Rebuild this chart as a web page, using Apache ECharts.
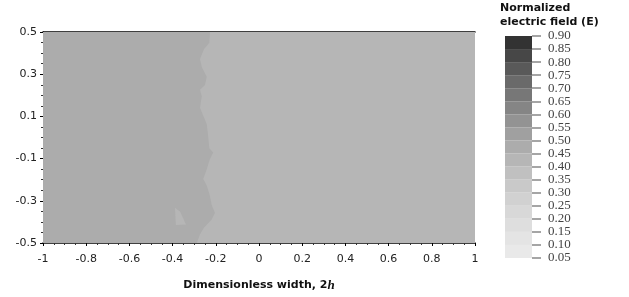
<!DOCTYPE html>
<html>
<head>
<meta charset="utf-8">
<script src="https://cdn.jsdelivr.net/npm/echarts@6/dist/echarts.min.js"></script>
<style>
    html, body { margin: 0; padding: 0; background: #fff; }
    #chart { width: 629px; height: 297px; }
</style>
</head>
<body>
<div id="chart"></div>
<script>
// boundary between the two levels (top to bottom)
const boundaryX = [-0.227, -0.23, -0.255, -0.273, -0.265, -0.242, -0.25, -0.273, -0.265, -0.273, -0.261, -0.242,
    -0.235, -0.23, -0.212, -0.228, -0.242, -0.258, -0.242, -0.228, -0.219, -0.204, -0.219, -0.255, -0.273, -0.288];
const boundaryY = [0.5, 0.449, 0.418, 0.372, 0.334, 0.288, 0.249, 0.226, 0.195, 0.141, 0.11, 0.064,
    0.003, -0.051, -0.071, -0.104, -0.151, -0.197, -0.228, -0.274, -0.32, -0.358, -0.389, -0.428, -0.458, -0.5];
// small lighter patch near the bottom
const patchX = [-0.389, -0.365, -0.338, -0.385];
const patchY = [-0.333, -0.352, -0.412, -0.415];
// field value of each region: whole plot, left part, patch
const regionValues = [0.425, 0.475, 0.425];

// colour bar
const bandEdges = [0.05, 0.10, 0.15, 0.20, 0.25, 0.30, 0.35, 0.40, 0.45, 0.50, 0.55, 0.60, 0.65, 0.70, 0.75, 0.80, 0.85, 0.90];
const bandColors = ['#e9e9e9', '#e4e4e4', '#dedede', '#d8d8d8', '#d1d1d1', '#c9c9c9', '#c0c0c0', '#b6b6b6', '#acacac',
    '#a0a0a0', '#939393', '#858585', '#777777', '#6a6a6a', '#595959', '#474747', '#333333'];

const regions = [
    { x: [-1, 1, 1, -1], y: [0.5, 0.5, -0.5, -0.5] },
    { x: [-1].concat(boundaryX, [-1]), y: [0.5].concat(boundaryY, [-0.5]) },
    { x: patchX, y: patchY },
];

let pieces = [];
let bars = [];
for (let i = 0; i < bandColors.length; i++) {
    pieces.push({ gt: bandEdges[i], lte: bandEdges[i + 1], color: bandColors[i] });
    bars.push([bandEdges[i], bandEdges[i + 1]]);
}

let myChart = echarts.init(document.getElementById('chart'), null, { renderer: 'canvas' });
myChart.setOption({
    animation: false,
    grid: [
        { left: 43, right: 154, top: 32, bottom: 48 },
        { left: 505, width: 27, top: 36, height: 222 },
    ],
    visualMap: {
        type: 'piecewise',
        show: false,
        dimension: 1,
        seriesIndex: [0, 1],
        pieces: pieces,
    },
    graphic: [
        {
            type: 'text',
            left: 500,
            top: 1,
            style: {
                text: 'Normalized\nelectric field (E)',
                font: 'bold 11px "DejaVu Sans"',
                lineHeight: 14,
                fill: '#111',
            },
        },
    ],
    xAxis: [
        {
            type: 'value',
            gridIndex: 0,
            min: -1,
            max: 1,
            interval: 0.2,
            name: '{a|Dimensionless width, 2}{b|h}',
            nameLocation: 'middle',
            nameGap: 36,
            nameTextStyle: {
                rich: {
                    a: { fontFamily: 'DejaVu Sans', fontWeight: 'bold', fontSize: 11, color: '#111' },
                    b: { fontFamily: 'Liberation Serif', fontWeight: 'bold', fontStyle: 'italic', fontSize: 13, color: '#111' },
                },
            },
            axisLine: { onZero: false, lineStyle: { color: '#000', width: 1.5 } },
            axisTick: { length: 3, lineStyle: { color: '#000' } },
            minorTick: { show: true, splitNumber: 4, length: 2, lineStyle: { color: '#333' } },
            axisLabel: { fontFamily: 'DejaVu Sans', fontSize: 11, color: '#222', margin: 11 },
            splitLine: { show: false },
        },
        {
            type: 'value',
            gridIndex: 0,
            position: 'top',
            min: -1,
            max: 1,
            axisLine: { onZero: false, lineStyle: { color: '#000', width: 1.5 } },
            axisTick: { show: false },
            axisLabel: { show: false },
            splitLine: { show: false },
        },
        {
            type: 'value',
            gridIndex: 1,
            min: 0,
            max: 1,
            show: false,
        },
    ],
    yAxis: [
        {
            type: 'value',
            gridIndex: 0,
            min: -0.5,
            max: 0.5,
            interval: 0.2,
            axisLine: { show: true, onZero: false, lineStyle: { color: '#000', width: 1 } },
            axisTick: { show: true, length: 3, lineStyle: { color: '#000' } },
            minorTick: { show: true, splitNumber: 4, length: 2, lineStyle: { color: '#333' } },
            axisLabel: { fontFamily: 'DejaVu Sans', fontSize: 11, color: '#222', margin: 6 },
            splitLine: { show: false },
        },
        {
            type: 'value',
            gridIndex: 1,
            position: 'right',
            min: 0.05,
            max: 0.9,
            interval: 0.05,
            axisLine: { show: false, onZero: false },
            axisTick: { show: true, length: 9, lineStyle: { color: '#888', width: 1.5 } },
            axisLabel: {
                fontFamily: 'Liberation Serif',
                fontSize: 13,
                color: '#444',
                margin: 16,
                formatter: (v) => v.toFixed(2),
            },
            splitLine: { show: false },
        },
    ],
    series: [
        {
            type: 'custom',
            xAxisIndex: 0,
            yAxisIndex: 0,
            clip: true,
            z: 1,
            data: regionValues.map((v, i) => [i, v]),
            renderItem: function (params, api) {
                const poly = regions[api.value(0)];
                const points = poly.x.map((x, i) => api.coord([x, poly.y[i]]));
                return {
                    type: 'polygon',
                    shape: { points: points },
                    style: { fill: api.visual('color') },
                };
            },
        },
        {
            type: 'custom',
            xAxisIndex: 2,
            yAxisIndex: 1,
            z: 1,
            data: bars,
            renderItem: function (params, api) {
                const a = api.coord([0, api.value(0)]);
                const b = api.coord([1, api.value(1)]);
                return {
                    type: 'rect',
                    shape: { x: a[0], y: b[1], width: b[0] - a[0], height: a[1] - b[1] },
                    style: { fill: api.visual('color') },
                };
            },
        },
    ],
});
</script>
</body>
</html>
